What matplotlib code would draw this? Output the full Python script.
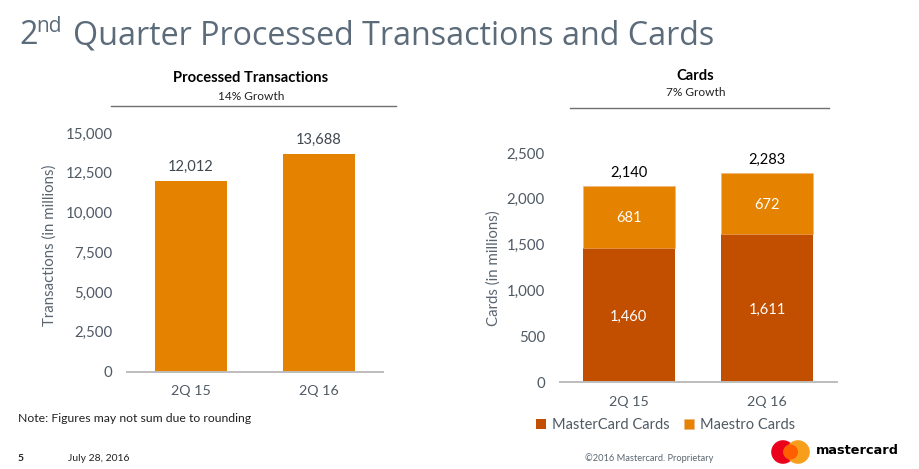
import matplotlib
matplotlib.use("Agg")
import matplotlib.pyplot as plt
from matplotlib.patches import Circle
from matplotlib.lines import Line2D

W, H = 919, 469
quarters = ["2Q 15", "2Q 16"]
transactions = [12012, 13688]
mastercard_cards = [1460, 1611]
maestro_cards = [681, 672]
card_totals = ["2,140", "2,283"]
trans_ticks = [0, 2500, 5000, 7500, 10000, 12500, 15000]
card_ticks = [0, 500, 1000, 1500, 2000, 2500]

ORANGE = "#E58200"
DARK = "#C24E00"
GREY = "#5A6570"
AXIS = "#BDBDBD"
plt.rcParams["font.family"] = ["Lato", "DejaVu Sans"]

fig = plt.figure(figsize=(W / 100, H / 100), dpi=100)

def px_axes(x0, x1, ytop, ybot):
    return fig.add_axes([x0 / W, 1 - ybot / H, (x1 - x0) / W, (ybot - ytop) / H])

def ftext(x, y, s, **kw):
    kw.setdefault("va", "center")
    return fig.text(x / W, 1 - y / H, s, **kw)

def style(ax, ticks, ylabel):
    ax.set_xlim(-0.5, 1.5)
    ax.set_ylim(0, ticks[-1])
    ax.set_yticks(ticks, [f"{t:,}" for t in ticks])
    ax.set_xticks(range(len(quarters)), quarters)
    for s in ("top", "right", "left"):
        ax.spines[s].set_visible(False)
    ax.spines["bottom"].set_color(AXIS)
    ax.spines["bottom"].set_linewidth(1.4)
    ax.tick_params(axis="y", length=0, labelsize=10.8, labelcolor="#4F5A64", pad=10.5)
    ax.tick_params(axis="x", length=0, labelsize=10.3, labelcolor="#4F5A64", pad=10)
    ax.set_ylabel(ylabel, fontsize=10.8, color=GREY)
    ax.patch.set_alpha(0)

# Left chart
ax1 = px_axes(127, 383, 133, 371.5)
ax1.bar(range(2), transactions, width=0.5625, color=ORANGE)
for i, v in enumerate(transactions):
    ax1.annotate(f"{v:,}", (i, v), xytext=(0, 5), textcoords="offset points",
                 ha="center", va="bottom", fontsize=10.5, color="#3F4750")
style(ax1, trans_ticks, "Transactions (in millions)")
ax1.yaxis.set_label_coords((57 - 127) / 256, 0.53)

# Right chart
ax2 = px_axes(559.5, 836.5, 153, 382)
ax2.bar(range(2), mastercard_cards, width=0.667, color=DARK, label="MasterCard Cards")
ax2.bar(range(2), maestro_cards, width=0.667, bottom=mastercard_cards, color=ORANGE,
        edgecolor="#EFB37A", linewidth=0.4, label="Maestro Cards")
for i, (a, b) in enumerate(zip(mastercard_cards, maestro_cards)):
    for val, mid in ((a, a / 2), (b, a + b / 2)):
        ax2.annotate(f"{val:,}", (i, mid), xytext=(0, -1), textcoords="offset points",
                     ha="center", va="center", fontsize=10.5, color="white")
    ax2.annotate(card_totals[i], (i, a + b), xytext=(0, 4), textcoords="offset points",
                 ha="center", va="bottom", fontsize=10.5, color="black")
style(ax2, card_ticks, "Cards (in millions)")
ax2.yaxis.set_label_coords((501 - 559.5) / 277, 0.498)
ax2.legend(loc="upper left", bbox_to_anchor=((536 - 559.5) / 277, (382 - 418) / 229), ncol=2,
           frameon=False, fontsize=10.5, labelcolor="#4F5A64", handlelength=0.7, handleheight=0.7,
           handletextpad=0.4, columnspacing=1.0, borderpad=0, borderaxespad=0)

# Slide text
TITLE = "#5B6B7A"
ftext(19, 36, "2", fontsize=23.2, family="Open Sans", color=TITLE)
ftext(36, 27, "nd", fontsize=15, family="Open Sans", color=TITLE)
ftext(73, 36, "Quarter Processed Transactions and Cards", fontsize=23.2, family="Open Sans", color=TITLE)

ftext(251, 78, "Processed Transactions", fontsize=10.6, fontweight="bold", color="black", ha="center")
ftext(251, 96, "14% Growth", fontsize=8.6, color="#222222", ha="center")
ftext(695.5, 76, "Cards", fontsize=10.6, fontweight="bold", color="black", ha="center")
ftext(695.5, 93, "7% Growth", fontsize=8.6, color="#222222", ha="center")
fig.add_artist(Line2D([111 / W, 396 / W], [1 - 106.5 / H] * 2, color="#707070", lw=1))
fig.add_artist(Line2D([570 / W, 829 / W], [1 - 108 / H] * 2, color="#707070", lw=1))

ftext(18, 418, "Note: Figures may not sum due to rounding", fontsize=8.85, color="#222222")
ftext(18, 458, "5", fontsize=7.5, fontweight="bold", color="#222222")
ftext(68, 458, "July 28, 2016", fontsize=7.5, color="#222222")
ftext(649, 458, "©2016 Mastercard. Proprietary", fontsize=6.7, color="#5A6570", ha="center")

# Logo
logo = fig.add_axes([0, 0, 1, 1], zorder=5)
logo.set_xlim(0, W)
logo.set_ylim(H, 0)
logo.axis("off")
logo.add_patch(Circle((783, 452), 11.8, color="#EB001B", lw=0))
logo.add_patch(Circle((798, 452), 11.8, color="#F79E1B", lw=0))
logo.add_patch(Circle((790.5, 452), 7.5, color="#FF5F00", lw=0))
logo.text(816, 451, "mastercard", fontsize=9.3, fontweight="bold", family="DejaVu Sans",
          color="black", va="center")

fig.savefig("out.png", dpi=100)
